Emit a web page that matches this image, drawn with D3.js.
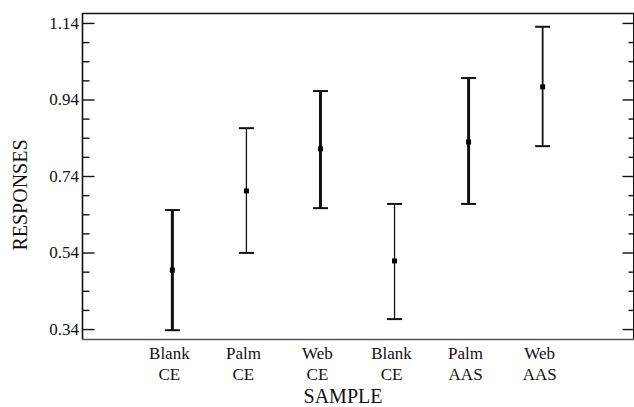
<!DOCTYPE html>
<html>
<head>
<meta charset="utf-8">
<script src="https://cdn.jsdelivr.net/npm/d3@7"></script>
<style>
  html, body { margin: 0; padding: 0; background: #fff; }
  svg { display: block; }
  text { font-family: "Liberation Serif", "DejaVu Serif", serif; fill: #111; }
</style>
</head>
<body>
<svg id="chart" width="634" height="407"></svg>
<script>
// ---- data ----
const categories = ["Blank|CE", "Palm|CE", "Web|CE", "Blank|CE", "Palm|AAS", "Web|AAS"];
const means      = [0.494, 0.701, 0.811, 0.518, 0.829, 0.973];
const lowers     = [0.337, 0.539, 0.656, 0.366, 0.667, 0.818];
const uppers     = [0.651, 0.865, 0.962, 0.667, 0.996, 1.130];
const yMajorTicks = [0.34, 0.54, 0.74, 0.94, 1.14];
const yMinorTicks = [0.39, 0.44, 0.49, 0.59, 0.64, 0.69, 0.79, 0.84, 0.89, 0.99, 1.04, 1.09];
const xTitle = "SAMPLE";
const yTitle = "RESPONSES";

// ---- layout ----
const svg = d3.select("#chart");
const L = 82, R = 633, T = 13, B = 339;
const x = d3.scalePoint().domain(d3.range(categories.length)).range([L, R]).padding(1.22);
const y = d3.scaleLinear().domain([0.314, 1.166]).range([B, T]);

const barW = [3, 1.3, 3, 1.3, 3, 1.8];

// frame
const frame = svg.append("g").attr("stroke", "#111").attr("fill", "none");
frame.append("line").attr("x1", L).attr("x2", R + 1).attr("y1", T + 0.5).attr("y2", T + 0.5).attr("stroke-width", 1.6);
frame.append("line").attr("x1", L + 0.5).attr("x2", L + 0.5).attr("y1", T).attr("y2", B).attr("stroke-width", 1.6);
frame.append("line").attr("x1", R + 0.5).attr("x2", R + 0.5).attr("y1", T).attr("y2", B).attr("stroke-width", 1);
frame.append("line").attr("x1", L).attr("x2", R + 1).attr("y1", B + 0.5).attr("y2", B + 0.5).attr("stroke", "#555").attr("stroke-width", 1.4);

// left axis (ticks pointing inward)
const leftAxis = d3.axisRight(y).tickValues(yMajorTicks).tickSize(12).tickFormat("");
const gl = svg.append("g").attr("transform", `translate(${L + 0.5},0)`).call(leftAxis);
gl.select(".domain").remove();
gl.selectAll(".tick line").attr("stroke", "#111").attr("stroke-width", 1.4);
const leftMinor = d3.axisRight(y).tickValues(yMinorTicks).tickSize(7).tickFormat("");
const glm = svg.append("g").attr("transform", `translate(${L + 0.5},0)`).call(leftMinor);
glm.select(".domain").remove();
glm.selectAll(".tick line").attr("stroke", "#111").attr("stroke-width", 1.4);

// left tick labels
svg.append("g").selectAll("text").data(yMajorTicks).join("text")
  .attr("x", 79).attr("y", d => y(d)).attr("dy", "0.34em")
  .attr("text-anchor", "end").attr("font-size", 17)
  .text(d => d3.format(".2f")(d));

// right axis (ticks pointing inward)
const rightAxis = d3.axisLeft(y).tickValues(yMajorTicks).tickSize(11).tickFormat("");
const gr = svg.append("g").attr("transform", `translate(${R + 0.5},0)`).call(rightAxis);
gr.select(".domain").remove();
gr.selectAll(".tick line").attr("stroke", "#111").attr("stroke-width", 1.4);
const rightMinor = d3.axisLeft(y).tickValues(yMinorTicks).tickSize(5).tickFormat("");
const grm = svg.append("g").attr("transform", `translate(${R + 0.5},0)`).call(rightMinor);
grm.select(".domain").remove();
grm.selectAll(".tick line").attr("stroke", "#111").attr("stroke-width", 1.4);

// error bars
const idx = d3.range(categories.length);
const bars = svg.append("g");
bars.selectAll("line.v").data(idx).join("line").attr("class", "v")
  .attr("x1", i => x(i)).attr("x2", i => x(i))
  .attr("y1", i => y(uppers[i])).attr("y2", i => y(lowers[i]))
  .attr("stroke", "#111").attr("stroke-width", i => barW[i]);
bars.selectAll("line.cu").data(idx).join("line").attr("class", "cu")
  .attr("x1", i => x(i) - 7.5).attr("x2", i => x(i) + 7.5)
  .attr("y1", i => y(uppers[i])).attr("y2", i => y(uppers[i]))
  .attr("stroke", "#111").attr("stroke-width", 2);
bars.selectAll("line.cl").data(idx).join("line").attr("class", "cl")
  .attr("x1", i => x(i) - 7.5).attr("x2", i => x(i) + 7.5)
  .attr("y1", i => y(lowers[i])).attr("y2", i => y(lowers[i]))
  .attr("stroke", "#111").attr("stroke-width", 2);
bars.selectAll("rect.m").data(idx).join("rect").attr("class", "m")
  .attr("x", i => x(i) - 2.5).attr("y", i => y(means[i]) - 2.5)
  .attr("width", 5).attr("height", 5).attr("fill", "#000");

// category labels
const cl = svg.append("g").selectAll("text").data(idx).join("text")
  .attr("text-anchor", "middle").attr("font-size", 17);
cl.append("tspan").attr("x", i => x(i) - 3).attr("y", 359).text(i => categories[i].split("|")[0]);
cl.append("tspan").attr("x", i => x(i) - 3).attr("y", 380).text(i => categories[i].split("|")[1]);

// axis titles
svg.append("text").attr("x", 343).attr("y", 403).attr("text-anchor", "middle")
  .attr("font-size", 20).text(xTitle);
svg.append("text").attr("transform", "translate(27,195) rotate(-90)")
  .attr("text-anchor", "middle").attr("font-size", 20).text(yTitle);
</script>
</body>
</html>
